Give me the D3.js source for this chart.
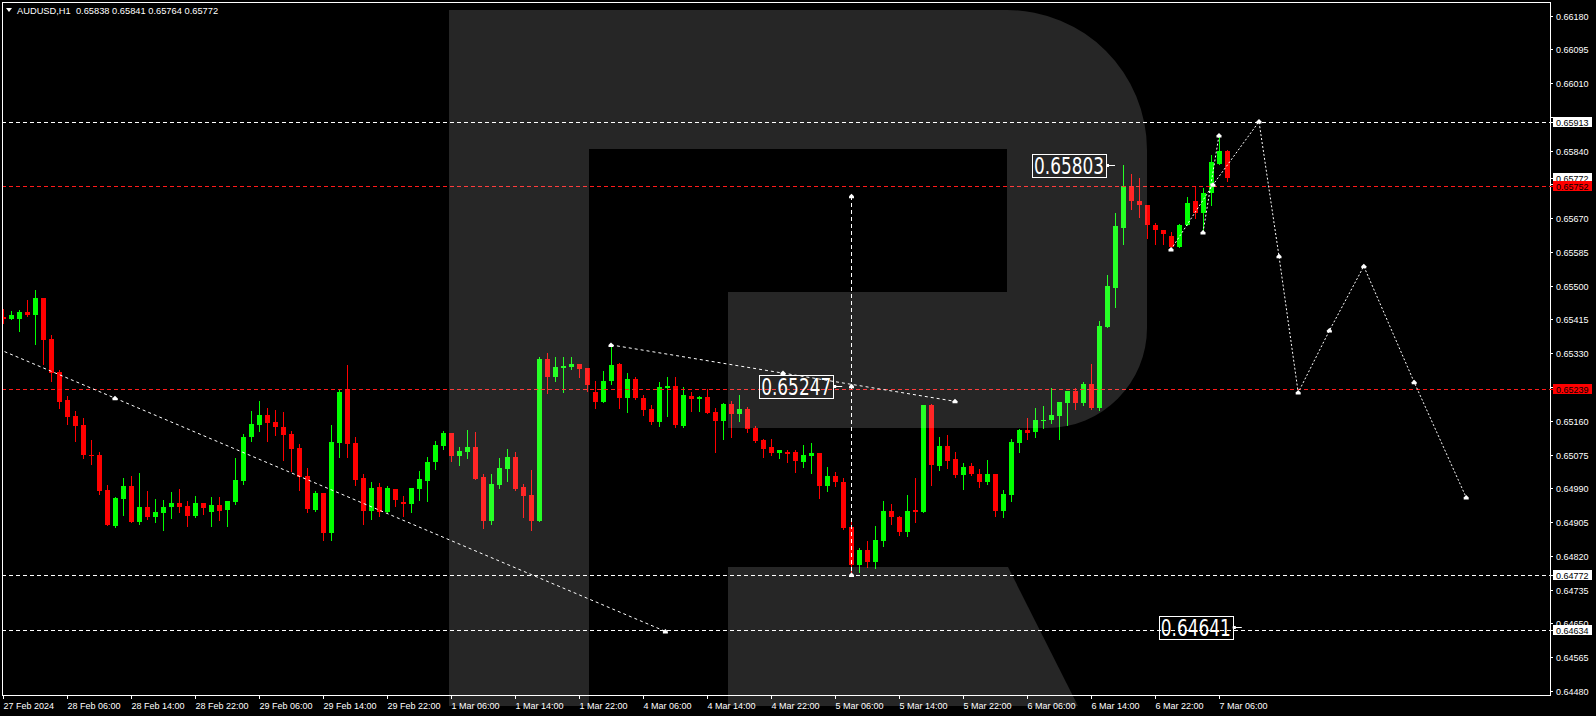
<!DOCTYPE html>
<html><head><meta charset="utf-8">
<script src="https://cdn.jsdelivr.net/npm/d3@7"></script>
<style>html,body{margin:0;padding:0;background:#000;overflow:hidden}svg{display:block}</style>
</head><body>
<svg id="c" width="1596" height="716"></svg>
<script>
// ---------- DATA ----------
const symbolName = "AUDUSD,H1";
const lastQuote = [0.65838, 0.65841, 0.65764, 0.65772];
const opens = [0.65422,0.65415,0.65415,0.65435,0.65427,0.65470,0.65367,0.65284,0.65213,0.65173,0.65150,0.65075,0.65075,0.64987,0.64896,0.64964,0.64997,0.64906,0.64944,0.64919,0.64929,0.64944,0.64954,0.64946,0.64921,0.64954,0.64931,0.64949,0.64936,0.64956,0.65009,0.65120,0.65150,0.65175,0.65158,0.65145,0.65128,0.65092,0.65022,0.64936,0.64979,0.64878,0.65105,0.65241,0.65105,0.65017,0.64934,0.64994,0.64931,0.64989,0.64956,0.64951,0.64989,0.65009,0.65057,0.65097,0.65130,0.65072,0.65082,0.65095,0.65019,0.64908,0.64999,0.65039,0.65070,0.64994,0.64974,0.64908,0.65316,0.65271,0.65294,0.65296,0.65304,0.65294,0.65233,0.65208,0.65261,0.65304,0.65218,0.65266,0.65218,0.65190,0.65158,0.65243,0.65248,0.65148,0.65223,0.65216,0.65221,0.65183,0.65160,0.65203,0.65178,0.65190,0.65143,0.65112,0.65095,0.65080,0.65082,0.65082,0.65057,0.65072,0.65080,0.64997,0.65022,0.65007,0.64893,0.64798,0.64835,0.64805,0.64858,0.64934,0.64919,0.64881,0.64936,0.64931,0.65200,0.65047,0.65097,0.65065,0.65024,0.65047,0.65027,0.65007,0.65027,0.64934,0.64974,0.65105,0.65138,0.65133,0.65160,0.65163,0.65173,0.65206,0.65236,0.65206,0.65253,0.65193,0.65397,0.65495,0.65646,0.65752,0.65712,0.65704,0.65654,0.65641,0.65626,0.65598,0.65654,0.65712,0.65684,0.65734,0.65807,0.65838];
const highs = [0.65442,0.65437,0.65440,0.65465,0.65488,0.65470,0.65377,0.65289,0.65223,0.65185,0.65168,0.65112,0.65082,0.64999,0.64969,0.65017,0.65022,0.65029,0.64984,0.64964,0.64961,0.64981,0.64989,0.64959,0.64971,0.64954,0.64969,0.64969,0.64959,0.65067,0.65128,0.65185,0.65211,0.65193,0.65188,0.65183,0.65135,0.65102,0.65042,0.64984,0.64979,0.65150,0.65238,0.65301,0.65120,0.65027,0.65007,0.65004,0.64997,0.64989,0.64971,0.64992,0.65034,0.65070,0.65110,0.65135,0.65130,0.65095,0.65138,0.65133,0.65027,0.65027,0.65067,0.65090,0.65082,0.65002,0.65037,0.65321,0.65331,0.65321,0.65321,0.65321,0.65304,0.65294,0.65261,0.65286,0.65352,0.65306,0.65281,0.65269,0.65226,0.65200,0.65258,0.65271,0.65271,0.65246,0.65233,0.65223,0.65241,0.65193,0.65206,0.65211,0.65226,0.65195,0.65148,0.65115,0.65115,0.65087,0.65087,0.65087,0.65100,0.65105,0.65080,0.65044,0.65032,0.65017,0.64914,0.64840,0.64858,0.64896,0.64959,0.64951,0.64921,0.64974,0.65017,0.65200,0.65203,0.65120,0.65125,0.65082,0.65054,0.65054,0.65039,0.65062,0.65027,0.64987,0.65115,0.65140,0.65168,0.65193,0.65198,0.65243,0.65208,0.65236,0.65243,0.65258,0.65304,0.65412,0.65528,0.65684,0.65805,0.65780,0.65772,0.65704,0.65659,0.65641,0.65634,0.65656,0.65722,0.65752,0.65747,0.65830,0.65878,0.65841];
const lows = [0.65407,0.65415,0.65387,0.65425,0.65354,0.65304,0.65261,0.65193,0.65153,0.65110,0.65067,0.65052,0.64976,0.64898,0.64893,0.64924,0.64906,0.64901,0.64914,0.64906,0.64886,0.64916,0.64931,0.64896,0.64919,0.64926,0.64896,0.64911,0.64896,0.64951,0.65002,0.65110,0.65135,0.65110,0.65125,0.65062,0.65034,0.64987,0.64931,0.64934,0.64861,0.64861,0.65070,0.65070,0.64999,0.64901,0.64914,0.64921,0.64931,0.64946,0.64921,0.64931,0.64961,0.64959,0.65039,0.65090,0.65060,0.65049,0.65067,0.65014,0.64891,0.64901,0.64992,0.65009,0.64987,0.64919,0.64886,0.64908,0.65231,0.65261,0.65233,0.65291,0.65271,0.65236,0.65193,0.65208,0.65253,0.65193,0.65183,0.65216,0.65175,0.65153,0.65148,0.65173,0.65145,0.65145,0.65185,0.65185,0.65180,0.65082,0.65115,0.65120,0.65160,0.65133,0.65107,0.65070,0.65075,0.65067,0.65057,0.65032,0.65044,0.65029,0.64966,0.64984,0.64997,0.64888,0.64772,0.64780,0.64793,0.64790,0.64846,0.64901,0.64873,0.64871,0.64906,0.64931,0.64999,0.65037,0.65042,0.65019,0.64989,0.65024,0.64994,0.65002,0.64921,0.64919,0.64959,0.65082,0.65115,0.65120,0.65143,0.65155,0.65115,0.65150,0.65190,0.65200,0.65190,0.65188,0.65397,0.65447,0.65606,0.65692,0.65674,0.65621,0.65606,0.65606,0.65591,0.65598,0.65654,0.65671,0.65634,0.65702,0.65807,0.65764];
const closes = [0.65415,0.65427,0.65435,0.65427,0.65470,0.65364,0.65281,0.65208,0.65170,0.65148,0.65075,0.65073,0.64984,0.64898,0.64966,0.64997,0.64906,0.64944,0.64919,0.64931,0.64944,0.64954,0.64944,0.64921,0.64954,0.64941,0.64949,0.64934,0.64959,0.65012,0.65120,0.65153,0.65175,0.65155,0.65145,0.65125,0.65090,0.65019,0.64939,0.64979,0.64878,0.65107,0.65233,0.65102,0.65012,0.64934,0.64992,0.64931,0.64992,0.64961,0.64951,0.64992,0.65014,0.65057,0.65100,0.65130,0.65072,0.65085,0.65095,0.65014,0.64908,0.65002,0.65042,0.65070,0.64989,0.64971,0.64908,0.65316,0.65271,0.65296,0.65299,0.65304,0.65291,0.65251,0.65208,0.65261,0.65301,0.65218,0.65264,0.65218,0.65188,0.65158,0.65246,0.65248,0.65150,0.65226,0.65216,0.65221,0.65180,0.65160,0.65203,0.65178,0.65190,0.65140,0.65110,0.65090,0.65080,0.65087,0.65077,0.65060,0.65075,0.65080,0.64997,0.65022,0.65007,0.64891,0.64798,0.64835,0.64805,0.64861,0.64934,0.64919,0.64881,0.64934,0.64931,0.65200,0.65049,0.65097,0.65060,0.65024,0.65044,0.65027,0.65007,0.65027,0.64934,0.64976,0.65107,0.65138,0.65130,0.65163,0.65163,0.65175,0.65208,0.65236,0.65206,0.65253,0.65193,0.65399,0.65500,0.65651,0.65752,0.65712,0.65704,0.65654,0.65641,0.65631,0.65598,0.65654,0.65709,0.65684,0.65734,0.65812,0.65838,0.65772];

const timeLabels = ["27 Feb 2024","28 Feb 06:00","28 Feb 14:00","28 Feb 22:00","29 Feb 06:00","29 Feb 14:00","29 Feb 22:00","1 Mar 06:00","1 Mar 14:00","1 Mar 22:00","4 Mar 06:00","4 Mar 14:00","4 Mar 22:00","5 Mar 06:00","5 Mar 14:00","5 Mar 22:00","6 Mar 06:00","6 Mar 14:00","6 Mar 22:00","7 Mar 06:00"];
const barsPerLabel = 8;
const priceTicks = [0.64480,0.64565,0.64650,0.64735,0.64820,0.64905,0.64990,0.65075,0.65160,0.65245,0.65330,0.65415,0.65500,0.65585,0.65670,0.65755,0.65840,0.65925,0.66010,0.66095,0.66180];

const whiteLevels = [0.65913, 0.64772, 0.64634];
const redLevels = [0.65752, 0.65239];

// trend lines (bar index, price)
const trendA_bars = [-0.5, 14, 82.8];
const trendA_prices = [0.65340, 0.65217, 0.64630];
const trendB_bars = [76, 97.5, 119];
const trendB_prices = [0.65351, 0.65280, 0.65209];
const vLineBar = 106;
const vLinePrices = [0.65725, 0.65247, 0.64772];
const swingBars = [150, 152];
const swingPrices = [0.65634, 0.65878];
const forecastBars = [146, 151.25, 157, 159.5, 161.9, 165.8, 170.1, 176.4, 182.9];
const forecastPrices = [0.65591, 0.65754, 0.65913, 0.65574, 0.65231, 0.65387, 0.65549, 0.65257, 0.64967];

const tagPrices = [0.65803, 0.65247, 0.64641];
const tagBars = [139, 104.9, 154.85];

// ---------- DRAW ----------
const svg = d3.select("#c");
const FONT = "'Liberation Sans', Arial, sans-serif";
const x = d3.scaleLinear().domain([0, 152]).range([3, 1219]);
const y = d3.scaleLinear().domain([0.64480, 0.66180]).range([691, 15.5]);
const P = {l: 2, t: 2, r: 1550, b: 695};
const up = "#00ff00", dn = "#ff0000";

svg.append("rect").attr("width", 1596).attr("height", 716).attr("fill", "#000");
svg.append("clipPath").attr("id", "plot").append("rect")
  .attr("x", P.l + 1).attr("y", P.t + 1).attr("width", P.r - P.l - 1).attr("height", P.b - P.t - 1);
const g = svg.append("g").attr("clip-path", "url(#plot)");

// candles
const idx = d3.range(opens.length);
const col = i => closes[i] >= opens[i] ? up : dn;
const cg = g.append("g").attr("shape-rendering", "crispEdges");
cg.selectAll("line").data(idx).join("line")
  .attr("x1", i => Math.round(x(i)) + 0.5).attr("x2", i => Math.round(x(i)) + 0.5)
  .attr("y1", i => Math.round(y(highs[i]))).attr("y2", i => Math.round(y(lows[i])) + 1)
  .attr("stroke", col).attr("stroke-width", 1);
cg.selectAll("rect").data(idx).join("rect")
  .attr("x", i => Math.round(x(i)) - 2).attr("width", 5)
  .attr("y", i => Math.round(y(Math.max(opens[i], closes[i]))))
  .attr("height", i => Math.max(1, Math.round(y(Math.min(opens[i], closes[i]))) - Math.round(y(Math.max(opens[i], closes[i])))))
  .attr("fill", col);

// horizontal levels
const lg = g.append("g").attr("shape-rendering", "crispEdges");
whiteLevels.forEach(p => lg.append("line").attr("x1", P.l).attr("x2", P.r)
  .attr("y1", Math.round(y(p)) + 0.5).attr("y2", Math.round(y(p)) + 0.5)
  .attr("stroke", "#fff").attr("stroke-dasharray", "4,3"));
redLevels.forEach(p => lg.append("line").attr("x1", P.l).attr("x2", P.r)
  .attr("y1", Math.round(y(p)) + 0.5).attr("y2", Math.round(y(p)) + 0.5)
  .attr("stroke", "#ff1a1a").attr("stroke-dasharray", "4,3"));

// marker
const marker = (gg, px, py) => gg.append("path")
  .attr("d", `M${px - 2.5},${py + 2} L${px - 2.5},${py} L${px},${py - 2.5} L${px + 2.5},${py} L${px + 2.5},${py + 2} Z`)
  .attr("fill", "#fff");

const line = d3.line().x(d => x(d[0])).y(d => y(d[1]));
function poly(bars, prices, dash, marks) {
  const pts = bars.map((b, i) => [b, prices[i]]);
  g.append("path").attr("d", line(pts)).attr("fill", "none").attr("stroke", "#fff")
    .attr("stroke-width", 1).attr("stroke-dasharray", dash);
  pts.forEach((p, i) => { if (marks.includes(i)) marker(g, x(p[0]), y(p[1])); });
}
poly(trendA_bars, trendA_prices, "3,3", [1, 2]);
poly(trendB_bars, trendB_prices, "3,3", [0, 1, 2]);
poly(forecastBars, forecastPrices, "2,2", [0, 1, 2, 3, 4, 5, 6, 7, 8]);
poly(swingBars, swingPrices, "2,2", [0, 1]);
// vertical
g.append("line").attr("x1", Math.round(x(vLineBar)) + 0.5).attr("x2", Math.round(x(vLineBar)) + 0.5)
  .attr("y1", y(vLinePrices[0])).attr("y2", y(vLinePrices[2]))
  .attr("stroke", "#fff").attr("stroke-dasharray", "4,3").attr("shape-rendering", "crispEdges");
vLinePrices.forEach(p => marker(g, Math.round(x(vLineBar)) + 0.5, y(p)));

// price tags with boxes
tagPrices.forEach((p, i) => {
  const ax = x(tagBars[i]), ay = Math.round(y(p)) + 0.5;
  const bx = ax - 9;
  g.append("line").attr("x1", bx).attr("x2", ax).attr("y1", ay).attr("y2", ay).attr("stroke", "#fff");
  g.append("rect").attr("x", bx).attr("y", ay - 1.5).attr("width", 3).attr("height", 3).attr("fill", "#fff");
  g.append("rect").attr("x", Math.round(bx - 74) + 0.5).attr("y", Math.round(ay - 12) + 0.5)
    .attr("width", 74).attr("height", 23).attr("fill", "none").attr("stroke", "#fff").attr("shape-rendering", "crispEdges");
  g.append("text").attr("x", bx - 72).attr("y", ay + 8.5)
    .attr("font-family", "'Liberation Sans Narrow','DejaVu Sans Condensed','Liberation Sans',sans-serif")
    .attr("font-size", 23).attr("fill", "#fff")
    .attr("textLength", 70).attr("lengthAdjust", "spacingAndGlyphs").text(p.toFixed(5));
});

// watermark (semi-transparent R)
const wm = svg.append("g").attr("fill", "#fff").attr("fill-opacity", 0.149);
wm.append("path").attr("d", "M449,10 H1007 A140,140 0 0 1 1147,150 V328 A100,100 0 0 1 1047,428 H728 V292 H1007 V149 H589 V706 H449 Z");
wm.append("path").attr("d", "M728,567 H1008 L1078,706 H728 Z");

// frame
const fg = svg.append("g").attr("shape-rendering", "crispEdges").attr("stroke", "#fff").attr("fill", "none");
fg.append("rect").attr("x", P.l + 0.5).attr("y", P.t + 0.5).attr("width", P.r - P.l).attr("height", P.b - P.t);

// right axis
const ag = svg.append("g").attr("font-family", FONT).attr("font-size", 9).attr("fill", "#fff");
const boxPrices = whiteLevels.concat(redLevels, [lastQuote[3]]);
priceTicks.forEach(t => {
  const ty = Math.round(y(t)) + 0.5;
  ag.append("line").attr("x1", P.r).attr("x2", P.r + 3).attr("y1", ty).attr("y2", ty).attr("stroke", "#fff").attr("shape-rendering", "crispEdges");
  const hidden = boxPrices.some(b => Math.abs(y(b) - y(t)) < 6);
  if (!hidden) ag.append("text").attr("x", 1556).attr("y", ty + 3.5).text(t.toFixed(5));
});
function axisBox(p, fill) {
  const ty = Math.round(y(p));
  ag.append("rect").attr("x", 1553).attr("y", ty - 5).attr("width", 39).attr("height", 10).attr("fill", fill);
  ag.append("line").attr("x1", P.r).attr("x2", 1553).attr("y1", ty + 0.5).attr("y2", ty + 0.5).attr("stroke", fill).attr("shape-rendering", "crispEdges");
  ag.append("text").attr("x", 1556).attr("y", ty + 4).attr("fill", "#000").text(p.toFixed(5));
}
whiteLevels.forEach(p => axisBox(p, "#fff"));
axisBox(lastQuote[3], "#fff");
redLevels.forEach(p => axisBox(p, "#ff0000"));

// bottom axis
timeLabels.forEach((lab, i) => {
  const tx = Math.round(x(i * barsPerLabel)) + 0.5;
  ag.append("line").attr("x1", tx).attr("x2", tx).attr("y1", P.b).attr("y2", P.b + 4).attr("stroke", "#fff").attr("shape-rendering", "crispEdges");
  ag.append("text").attr("x", tx).attr("y", 709).text(lab);
});

// header
svg.append("path").attr("d", "M6,8 L12,8 L9,12 Z").attr("fill", "#fff");
svg.append("text").attr("x", 17).attr("y", 14).attr("font-family", FONT).attr("font-size", 9.3).attr("fill", "#fff")
  .style("white-space", "pre")
  .text(symbolName + "  " + lastQuote.map(v => v.toFixed(5)).join(" "));
</script>
</body></html>
